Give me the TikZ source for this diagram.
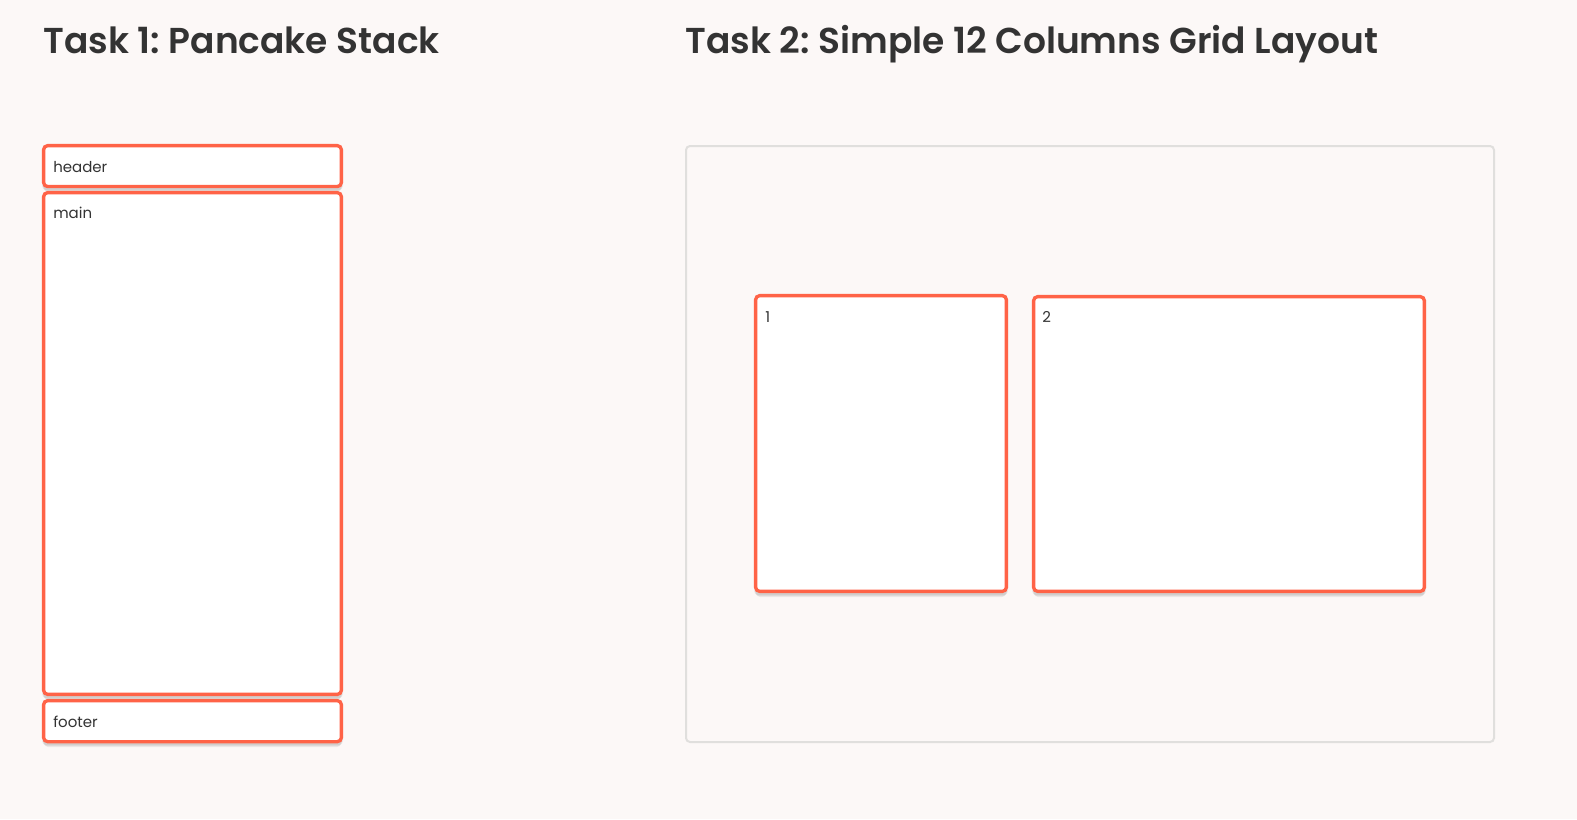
\documentclass[tikz,border=0pt]{standalone}
\usepackage{fontspec}
\setmainfont{Poppins}
\newfontfamily\titlefont{Poppins SemiBold}
\usetikzlibrary{fit}
\frenchspacing
\definecolor{pagebg}{HTML}{FCF8F7}
\definecolor{tomatoline}{HTML}{FF6347}
\definecolor{gridline}{HTML}{E0DFDD}
\definecolor{inkgray}{HTML}{333333}
\tikzset{
  heading/.style={anchor=base west, inner sep=0pt, text=inkgray,
    font=\titlefont\fontsize{27}{32}\selectfont},
  boxlabel/.style={anchor=base west, inner sep=0pt, text=inkgray,
    font=\fontsize{11.25}{13}\selectfont},
  panel/.style={draw=tomatoline, line width=2.5pt, fill=white,
    rounded corners=3pt, inner sep=0pt},
  wrapper/.style={draw=gridline, line width=1.5pt, fill=pagebg,
    rounded corners=3pt, inner sep=0pt},
  softshadow/.style={fill=black, opacity=0.06, rounded corners=3pt, draw=none}
}
% a soft shadow under a panel: outer corners (x1,y1) and (x2,y2) in px
\newcommand\panelshadow[4]{%
  \fill[softshadow] (#1+2,#2+3) rectangle (#3-2,#4+4);
  \fill[softshadow] (#1+1,#2+2) rectangle (#3-1,#4+3);
  \fill[softshadow] (#1,#2+1) rectangle (#3,#4+2);
}
\begin{document}
\begin{tikzpicture}[x=0.75pt,y=-0.75pt]
  \fill[pagebg] (0,0) rectangle (1577,819);
  \useasboundingbox (0,0) rectangle (1577,819);

  % headings
  \node[heading] (t1) at (43,53) {Task 1: Pancake Stack};
  \node[heading] (t2) at (685,53) {Task 2: Simple 12 Columns Grid Layout};

  % pancake stack
  \panelshadow{42}{144}{343}{188}
  \panelshadow{42}{191}{343}{696}
  \panelshadow{42}{699}{343}{743}
  \coordinate (h1) at (43.65,145.65); \coordinate (h2) at (341.35,186.55);
  \coordinate (m1) at (43.65,192.65); \coordinate (m2) at (341.35,694.35);
  \coordinate (f1) at (43.65,700.65); \coordinate (f2) at (341.35,741.65);
  \node[panel, fit=(h1)(h2)] (header) {};
  \node[panel, fit=(m1)(m2)] (main) {};
  \node[panel, fit=(f1)(f2)] (footer) {};
  \node[boxlabel] (headerlbl) at (53,172) {header};
  \node[boxlabel] (mainlbl) at (53,218) {main};
  \node[boxlabel] (footerlbl) at (53,727) {footer};

  % 12 column grid
  \coordinate (g1) at (686,146); \coordinate (g2) at (1494,742);
  \node[wrapper, fit=(g1)(g2)] (grid) {};
  \panelshadow{754}{294}{1008}{593}
  \panelshadow{1032}{295}{1426}{593}
  \coordinate (a1) at (755.65,295.65); \coordinate (a2) at (1006.35,591.35);
  \coordinate (b1) at (1033.65,296.65); \coordinate (b2) at (1424.35,591.35);
  \node[panel, fit=(a1)(a2)] (col1) {};
  \node[panel, fit=(b1)(b2)] (col2) {};
  \node[boxlabel] (col1lbl) at (765,322.5) {1};
  \node[boxlabel] (col2lbl) at (1042,322.5) {2};
\end{tikzpicture}
\end{document}
